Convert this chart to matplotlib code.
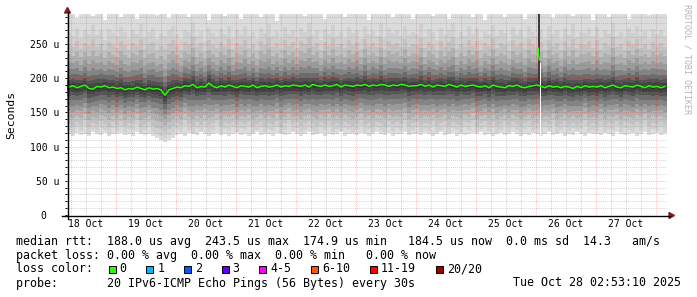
import matplotlib
matplotlib.use("Agg")
import numpy as np
import matplotlib.pyplot as plt
from matplotlib.patches import Rectangle, Polygon
from matplotlib.lines import Line2D

# ---------------- data ----------------
day_labels = ["18 Oct", "19 Oct", "20 Oct", "21 Oct", "22 Oct",
              "23 Oct", "24 Oct", "25 Oct", "26 Oct", "27 Oct"]
y_ticks = [0, 50, 100, 150, 200, 250]
y_tick_labels = ["0  ", "50 u", "100 u", "150 u", "200 u", "250 u"]

first_sample_hour = 4.4      # Oct 18 04:24
sample_step_hours = 1.6

median = [
    187, 189, 186, 188, 190, 185, 184, 188, 187, 189, 186, 187,
    185, 186, 183, 185, 184, 187, 185, 183, 186, 184, 185, 183, 175, 183, 185,
    187, 186, 189, 188, 191, 186, 188, 187, 193, 188, 186, 189, 187, 190, 188,
    186, 189, 188, 187, 190, 186, 188, 189, 187, 188, 190, 187, 189, 188, 190,
    189, 188, 190, 187, 191, 189, 188, 190, 188, 189, 191, 187, 190, 189, 188,
    190, 189, 191, 188, 190, 189, 191, 190, 188, 190, 189, 191, 190, 188, 189,
    189, 191, 188, 190, 187, 190, 189, 188, 191, 189, 187, 190, 188, 189, 190,
    188, 187, 189, 186, 190, 188, 187, 186, 189, 188, 190, 187, 186, 188, 189,
    190, 188, 186, 189, 187, 188, 186, 188, 187, 185, 188, 186, 189, 187, 188,
    187, 189, 186, 188, 190, 187, 186, 189, 188, 187, 190, 188, 186, 189, 187,
    188, 186, 188,
]
low_ping = [
    118, 116, 120, 117, 119, 115, 121, 118, 117, 120, 116, 119,
    118, 120, 117, 119, 116, 121, 118, 117, 119, 115, 113, 110, 107, 109, 113,
    117, 119, 116, 120, 118, 117, 121, 119, 116, 118, 120, 117, 119, 116, 118,
    120, 117, 119, 116, 118, 121, 117, 119, 118, 116, 120, 118, 117, 119, 121,
    118, 116, 119, 121, 117, 118, 120, 116, 119, 117, 118, 121, 116, 119, 118,
    117, 120, 118, 116, 119, 121, 118, 117, 120, 116, 118, 119, 121, 117, 118,
    119, 117, 120, 118, 116, 119, 121, 117, 118, 120, 116, 119, 117, 118, 120,
    118, 121, 117, 119, 116, 118, 120, 117, 119, 121, 118, 116, 119, 117, 120,
    118, 116, 119, 121, 117, 118, 120, 116, 119, 117, 121, 118, 116, 120, 118,
    119, 117, 120, 118, 116, 121, 119, 117, 118, 120, 116, 119, 121, 117, 118,
    120, 117, 119,
]
second_low_ping = [
    125, 121, 128, 123, 130, 119, 126, 122, 129, 124, 120, 127,
    123, 129, 121, 126, 124, 131, 120, 125, 128, 122, 118, 116, 113, 117, 121,
    126, 122, 130, 124, 119, 127, 123, 129, 121, 125, 131, 120, 126, 123, 128,
    122, 127, 124, 130, 120, 125, 128, 121, 126, 123, 129, 119, 125, 131, 122,
    127, 121, 125, 129, 123, 120, 128, 124, 130, 122, 126, 119, 127, 124, 121,
    124, 130, 122, 126, 120, 128, 125, 121, 129, 123, 127, 124, 131, 120, 125,
    128, 122, 126, 123, 130, 121, 125, 129, 120, 127, 124, 122, 128, 125, 131,
    121, 126, 129, 123, 127, 120, 125, 130, 122, 128, 124, 121, 126, 129, 123,
    126, 122, 128, 124, 131, 120, 125, 129, 123, 127, 121, 126, 130, 122, 125,
    123, 129, 121, 126, 124, 130, 122, 127, 125, 120, 128, 124, 131, 121, 126,
    124, 128, 122,
]
second_high_ping = [
    268, 262, 274, 259, 270, 265, 278, 263, 269, 256, 272, 266,
    261, 275, 267, 258, 271, 264, 279, 260, 268, 273, 257, 266, 262, 270, 276,
    264, 258, 271, 267, 280, 262, 269, 255, 274, 266, 260, 272, 265, 277, 259,
    270, 263, 276, 261, 268, 257, 273, 266, 279, 262, 269, 258, 275, 264, 271,
    260, 274, 267, 281, 263, 270, 256, 272, 265, 278, 261, 268, 259, 275, 266,
    271, 258, 276, 264, 269, 262, 280, 257, 273, 266, 270, 261, 277, 263, 268,
    265, 279, 260, 272, 267, 256, 274, 263, 270, 281, 259, 268, 262, 276, 264,
    273, 257, 269, 264, 278, 261, 271, 266, 255, 275, 263, 270, 259, 277, 267,
    262, 272, 258, 276, 265, 270, 257, 274, 263, 279, 260, 268, 266, 273, 261,
    275, 259, 270, 264, 280, 262, 268, 257, 273, 266, 277, 261, 269, 258, 272,
    265, 270, 262,
]
high_ping = [
    300, 300, 288, 300, 300, 300, 291, 300, 300, 285, 300, 300,
    300, 290, 300, 300, 300, 286, 300, 300, 300, 300, 292, 300, 300, 288, 300,
    300, 300, 300, 289, 300, 300, 300, 300, 285, 300, 300, 300, 291, 300, 300,
    300, 287, 300, 300, 300, 300, 290, 300, 300, 300, 284, 300, 300, 300, 300,
    300, 300, 291, 300, 300, 300, 300, 286, 300, 300, 300, 300, 289, 300, 300,
    300, 300, 300, 285, 300, 300, 300, 300, 300, 290, 300, 300, 300, 300, 287,
    300, 300, 300, 300, 291, 300, 300, 300, 286, 300, 300, 300, 300, 300, 289,
    300, 300, 285, 300, 300, 300, 300, 290, 300, 300, 300, 300, 287, 300, 300,
    300, 300, 300, 300, 288, 300, 300, 300, 300, 291, 300, 300, 300, 300, 285,
    300, 300, 300, 289, 300, 300, 300, 300, 286, 300, 300, 300, 300, 292, 300,
    300, 300, 300,
]

# spike just after midnight Oct 26 (hours since Oct 18 00:00)
spike_hours = [192.6, 193.45, 194.0]
spike_dark_low = 195
spike_dark_high = 300
gap_low = 116
gap_high = 222
spike_median_hours = [192.95, 192.95, 193.3]
spike_median = [244, 237, 227]

loss_labels = ["0", "1", "2", "3", "4-5", "6-10", "11-19", "20/20"]
loss_colors = ["#26ff00", "#00b8ff", "#0059ff", "#5e00ff",
               "#ff00ff", "#ff5500", "#ff0000", "#a00000"]

row1 = "median rtt:  188.0 us avg  243.5 us max  174.9 us min   184.5 us now  0.0 ms sd  14.3   am/s"
row2 = "packet loss: 0.00 % avg  0.00 % max  0.00 % min   0.00 % now"
row3 = "loss color:"
row4 = "probe:       20 IPv6-ICMP Echo Pings (56 Bytes) every 30s"
stamp = "Tue Oct 28 02:53:10 2025"

# ---------------- style ----------------
band_lo = [1.0, 0.860, 0.704, 0.563, 0.437, 0.313, 0.203, 0.125, 0.047]
band_hi = [1.0, 0.776, 0.601, 0.450, 0.325, 0.225, 0.137, 0.076, 0.025]
band_col = ["#dcdcdc", "#d0d0d0", "#c2c2c2", "#b0b0b0", "#9c9c9c",
            "#848484", "#6c6c6c", "#545454", "#424242", "#323232"]
MONO = "DejaVu Sans Mono"

W, H = 697, 297
fig = plt.figure(figsize=(W / 100, H / 100), dpi=100)
fig.patch.set_facecolor("white")
ax = fig.add_axes([67 / W, (H - 215) / H, 600 / W, 201 / H])
ax.set_facecolor("white")

med = np.array(median, float)
lo = np.array(low_ping, float)
hi = np.array(high_ping, float)
lo2 = np.maximum(np.array(second_low_ping, float), lo + 2)
hi2 = np.minimum(np.array(second_high_ping, float), hi - 2)
n = len(med)
t = (first_sample_hour + np.arange(n + 1) * sample_step_hours) / 24.0
t_mid = (t[:-1] + t[1:]) / 2

xmin = first_sample_hour / 24.0
xmax = xmin + 10.0
ax.set_xlim(xmin, xmax)
ax.set_ylim(0, 201 / 0.684)


def ext(a):
    return np.append(a, a[-1])


# outermost band: lowest to highest ping
ax.fill_between(t, ext(lo), ext(hi), step="post", color=band_col[0], lw=0,
                antialiased=False, zorder=1)
for fl, fu, c in zip(band_lo, band_hi, band_col[1:]):
    lower = med - (med - lo2) * fl
    upper = med + (hi2 - med) * fu
    ax.fill_between(t, ext(lower), ext(upper), step="post", color=c, lw=0,
                    antialiased=False, zorder=1)

sh = np.array(spike_hours) / 24.0
ax.fill_between(sh[:2], [spike_dark_low] * 2, [spike_dark_high] * 2,
                color="#3c3c3c", lw=0, antialiased=False, zorder=1.5)
ax.fill_between(sh[1:], [gap_low] * 2, [gap_high] * 2,
                color="white", lw=0, antialiased=False, zorder=1.5)

# grid
minor_c = (0.5, 0.5, 0.5, 0.32)
major_c = (1.0, 0.0, 0.0, 0.24)
dots = (0, (1, 1))
for v in range(10, 300, 10):
    if v % 50:
        ax.axhline(v, color=minor_c, lw=0.75, ls=dots, zorder=2)
for v in range(50, 300, 50):
    ax.axhline(v, color=major_c, lw=0.75, ls=dots, zorder=2.1)
for q in np.arange(0.25, 11, 0.25):
    if xmin < q < xmax:
        if abs(q - round(q)) < 1e-9:
            ax.axvline(q, color=major_c, lw=0.75, ls=dots, zorder=2.1)
        else:
            ax.axvline(q, color=minor_c, lw=0.75, ls=dots, zorder=2)

# median
ax.plot(t_mid, med, color="#26ff00", lw=1.1, zorder=3)
ax.plot(np.array(spike_median_hours) / 24.0, spike_median, color="#26ff00",
        lw=1.1, zorder=3)

# ticks
ax.set_yticks(y_ticks)
ax.set_yticklabels(y_tick_labels, fontfamily=MONO, fontsize=7)
ax.set_yticks(range(10, 300, 10), minor=True)
ax.tick_params(axis="y", which="both", length=1.5, width=0.7, pad=4.2, color="black")
ax.set_xticks(np.arange(len(day_labels)) + 0.5)
ax.set_xticklabels(day_labels, fontfamily=MONO, fontsize=7)
ax.tick_params(axis="x", length=0, pad=3.2)
for s in ax.spines.values():
    s.set_visible(False)


def px(x, y):
    return (x / W, 1 - y / H)


fig.add_artist(Line2D([62 / W, 670 / W], [1 - 215.5 / H] * 2, color="black",
                      lw=1.0, transform=fig.transFigure))
fig.add_artist(Line2D([67.5 / W] * 2, [1 - 219 / H, 1 - 12 / H], color="black",
                      lw=1.0, transform=fig.transFigure))
arrow_c = "#8b1a1a"
fig.add_artist(Polygon([px(669, 212.5), px(674.5, 215.5), px(669, 218.5)],
                       closed=True, color=arrow_c, transform=fig.transFigure))
fig.add_artist(Polygon([px(64.5, 13), px(67.5, 7.5), px(70.5, 13)],
                       closed=True, color=arrow_c, transform=fig.transFigure))

fig.text(11 / W, 1 - 114.5 / H, "Seconds", rotation=90, ha="center", va="center",
         fontfamily=MONO, fontsize=8.2)
fig.text(687 / W, 1 - 4 / H, "RRDTOOL / TOBI OETIKER", rotation=270, ha="center",
         va="top", fontfamily=MONO, fontsize=6, color="#b4b4b4")

# legend
cw = 7.02
fs = 8.4
fig.text(16 / W, 1 - 241 / H, row1, fontfamily=MONO, fontsize=fs, va="center")
fig.text(16 / W, 1 - 255 / H, row2, fontfamily=MONO, fontsize=fs, va="center")
fig.text(16 / W, 1 - 269 / H, row3, fontfamily=MONO, fontsize=fs, va="center")
fig.text(16 / W, 1 - 283 / H, row4, fontfamily=MONO, fontsize=fs, va="center")
fig.text(513 / W, 1 - 283 / H, stamp, fontfamily=MONO, fontsize=fs, va="center")

sx = 108.5
for lab, col in zip(loss_labels, loss_colors):
    fig.add_artist(Rectangle((sx / W, 1 - 272.5 / H), 7 / W, 7 / H, facecolor=col,
                             edgecolor="black", lw=0.7, transform=fig.transFigure))
    fig.text((sx + 11) / W, 1 - 269 / H, lab, fontfamily=MONO, fontsize=fs,
             va="center")
    sx += 11 + len(lab) * cw + 19.7

fig.savefig("out.png", dpi=100, facecolor="white")
